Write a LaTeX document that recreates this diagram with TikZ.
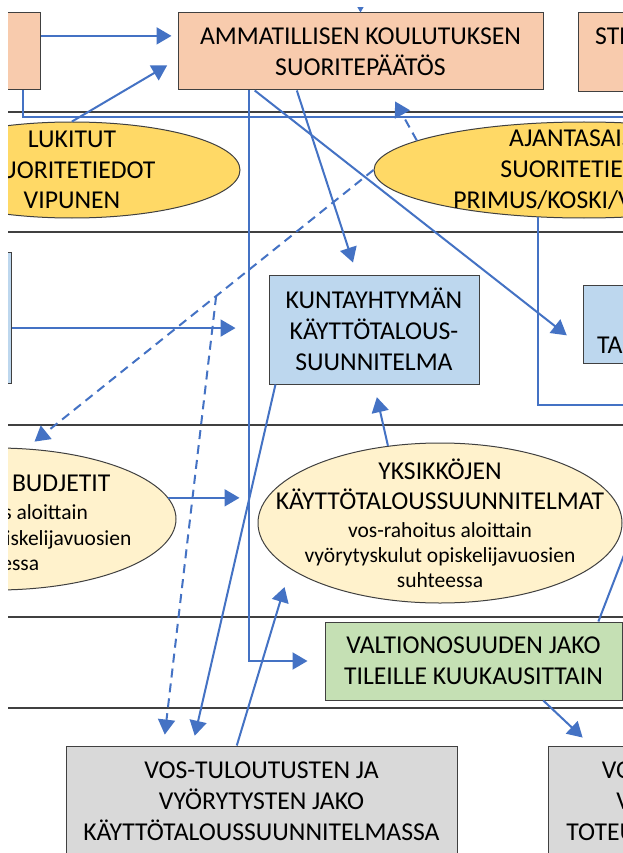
\documentclass[tikz,border=0pt]{standalone}
\usepackage{fontspec}
\setmainfont{Carlito}
\usetikzlibrary{shapes.geometric, arrows.meta, calc, positioning}

\definecolor{lohi}{HTML}{F8CBAD}
\definecolor{keltainen}{HTML}{FFD966}
\definecolor{vaalkelt}{HTML}{FFF2CC}
\definecolor{vaalsin}{HTML}{BDD7EE}
\definecolor{vihrea}{HTML}{C5E0B4}
\definecolor{harmaa}{HTML}{D9D9D9}
\definecolor{nuoli}{HTML}{4472C4}

\newcommand{\pieni}{\fontsize{21.5}{25.5}\selectfont}

\begin{document}
\begin{tikzpicture}[x=1pt, y=-1pt, >={Triangle[length=15pt,width=17pt]},
  box/.style={draw=black!75, line width=1pt, align=center, inner sep=0pt},
  oval/.style={ellipse, draw=black!75, line width=1pt, inner sep=0pt},
  flow/.style={draw=nuoli, line width=2pt},
  dflow/.style={flow, dash pattern=on 9pt off 6pt},
  lane/.style={draw=black!75, line width=1.5pt},
  font=\fontsize{25.7}{30.8}\selectfont]
  \fill[white] (0,0) rectangle (623,853);
  \useasboundingbox (0,0) rectangle (623,853);
  \clip (8,8) rectangle (623,853);

  % kaistat
  \foreach \y in {112,232,425,617,708} \draw[lane] (-50,\y) -- (700,\y);

  % ylin rivi
  \node[box, fill=lohi, minimum width=100pt, minimum height=77pt] (vasen) at (-10,51.5) {};
  \node[box, fill=lohi, minimum width=365pt, minimum height=77pt] (paatos) at (360.5,51.5) {AMMATILLISEN KOULUTUKSEN\\SUORITEPÄÄTÖS};
  \node[box, fill=lohi, minimum width=122pt, minimum height=79pt] (strat) at (639,52.5) {};
  \node[anchor=base west, inner sep=0pt] (strattext) at (595,45) {STE};

  % suoritetiedot
  \node[oval, fill=keltainen, minimum width=336pt, minimum height=96pt] (lukitut) at (72,170) {};
  \node[align=center] (lukituttext) at (lukitut) {LUKITUT\\SUORITETIEDOT\\VIPUNEN};
  \node[oval, fill=keltainen, minimum width=420pt, minimum height=96pt] (ajanta) at (584,170) {};
  \node[align=center] (ajantatext) at (ajanta) {AJANTASAISET\\SUORITETIEDOT\\PRIMUS/KOSKI/VIPUNEN};

  % suunnitelmat
  \node[box, fill=vaalsin, minimum width=92pt, minimum height=131pt] (vasensin) at (-35,317.5) {};
  \node[box, fill=vaalsin, minimum width=210pt, minimum height=109pt] (kunta) at (374,329.5) {KUNTAYHTYMÄN\\KÄYTTÖTALOUS-\\SUUNNITELMA};
  \node[box, fill=vaalsin, minimum width=137pt, minimum height=78pt] (talous) at (651.5,324) {};
  \node[anchor=base west, inner sep=0pt] (taloustext) at (597,353) {TA};

  % yksikot
  \node[oval, fill=vaalkelt, minimum width=360pt, minimum height=142pt] (budjetit) at (-4,519) {};
  \node[align=center] (budjetittext) at (-4,521) {YKSIKÖIDEN BUDJETIT\\[-3pt]\pieni vos-rahoitus aloittain\\[-5pt]\pieni vyörytyskulut opiskelijavuosien\\[-5pt]\pieni suhteessa};
  \node[oval, fill=vaalkelt, minimum width=364pt, minimum height=160pt] (yksikot) at (440,523) {};
  \node[align=center] (yksikottext) at (440,523) {YKSIKKÖJEN\\KÄYTTÖTALOUSSUUNNITELMAT\\[-3pt]\pieni vos-rahoitus aloittain\\[-6pt]\pieni vyörytyskulut opiskelijavuosien\\[-6pt]\pieni suhteessa};

  % valtionosuus ja kirjaukset
  \node[box, fill=vihrea, minimum width=297pt, minimum height=78pt] (valtion) at (473.5,661) {VALTIONOSUUDEN JAKO\\TILEILLE KUUKAUSITTAIN};
  \node[box, fill=harmaa, minimum width=391pt, minimum height=110pt] (jako) at (261.5,801) {VOS-TULOUTUSTEN JA\\VYÖRYTYSTEN JAKO\\KÄYTTÖTALOUSSUUNNITELMASSA};
  \node[box, fill=harmaa, minimum width=342pt, minimum height=110pt] (toteuma) at (719,801) {VOS-TULOUTUSTEN JA\\VYÖRYTYSTEN JAKO\\TOTEUTUMA KIRJANPIDOSSA};

  \coordinate (ylhaalta) at (360,-60);
  \coordinate (oikealle1) at (700,117);
  \coordinate (oikealle2) at (700,405);
  \coordinate (oikealle3) at (646,498);
  \coordinate (sinnuoli) at ($(vasensin.north east)!0.58!(vasensin.south east)$);
  \coordinate (haara) at ($(ajanta.west)!0.4527!(budjetit.67)$);

  % nuolet
  \draw[flow, ->] (ylhaalta) -- (paatos.north);
  \draw[flow, ->, shorten >=6pt] ($(vasen.north east)!0.3!(vasen.south east)$) -- ($(paatos.north west)!0.3!(paatos.south west)$);
  \draw[flow] ($(vasen.south west)!0.83!(vasen.south east)$) |- (oikealle1);
  \draw[flow, ->, shorten >=12pt] (lukitut.north) -- ($(paatos.north west)!0.6!(paatos.south west)$);
  \draw[flow, ->, shorten >=20pt] ($(paatos.south west)!0.211!(paatos.south east)$) -- ($(talous.north west)!0.8!(talous.south west)$);
  \draw[flow, ->, shorten >=12.6pt] ($(paatos.south west)!0.326!(paatos.south east)$) -- ($(kunta.north west)!0.419!(kunta.north east)$);
  \draw[flow, ->, shorten >=17pt] ($(paatos.south west)!0.1945!(paatos.south east)$) |- (valtion.west);
  \draw[flow] (ajanta.226) |- (oikealle2);
  \draw[dflow, ->, shorten >=12.5pt] (ajanta.170) -- ($(paatos.south west)!0.578!(paatos.south east)$);
  \draw[dflow, ->, shorten >=11pt] (ajanta.west) -- (budjetit.67);
  \draw[dflow, ->, shorten >=11pt] (haara) -- ($(jako.north west)!0.25!(jako.north east)$);
  \draw[flow, ->, shorten >=33pt] (sinnuoli) -- (sinnuoli -| kunta.west);
  \draw[flow, ->, shorten >=10pt] ($(kunta.south west)!0.033!(kunta.south east)$) -- ($(jako.north west)!0.324!(jako.north east)$);
  \draw[flow, ->, shorten >=19pt] ($(jako.north west)!0.437!(jako.north east)$) -- (yksikot.197);
  \draw[flow, ->, shorten >=13pt] (yksikot.124) -- (kunta.south);
  \draw[flow, ->, shorten >=18pt] (budjetit.7) -- (budjetit.7 -| yksikot.west);
  \draw[flow] ($(valtion.north west)!0.919!(valtion.north east)$) -- (oikealle3);
  \draw[flow, ->, shorten >=11.6pt] ($(valtion.south west)!0.734!(valtion.south east)$) -- ($(toteuma.north west)!0.127!(toteuma.north east)$);
\end{tikzpicture}
\end{document}
